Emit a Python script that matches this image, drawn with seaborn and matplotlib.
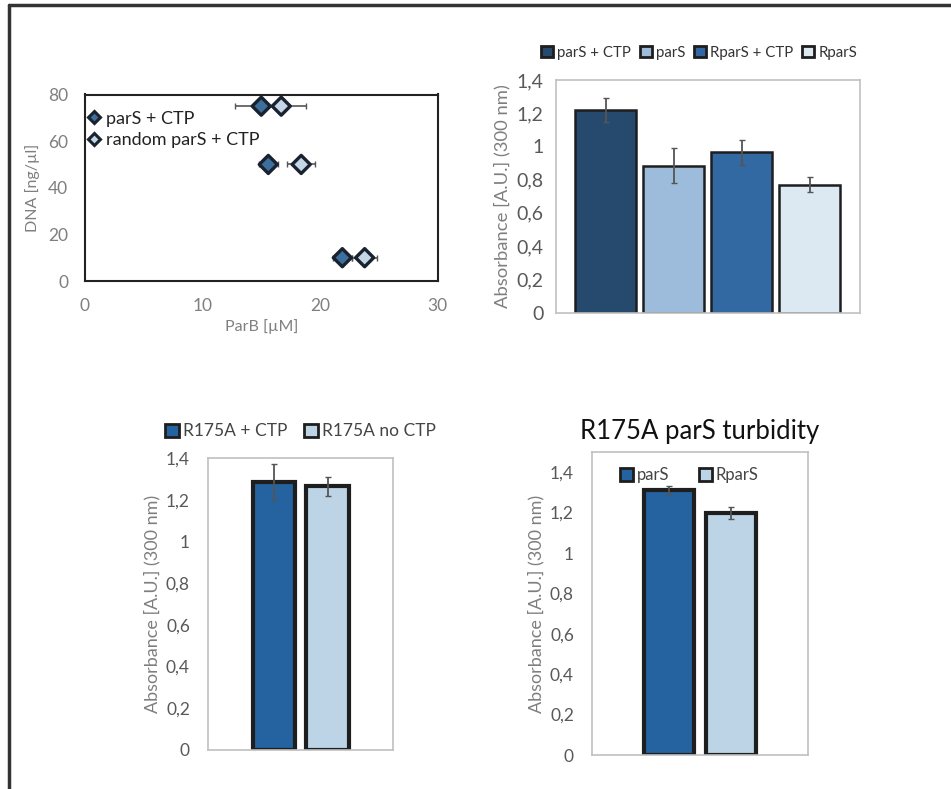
import numpy as np
import pandas as pd
import matplotlib
matplotlib.use("Agg")
import matplotlib.pyplot as plt
from matplotlib.lines import Line2D
from matplotlib.patches import Patch
from matplotlib.ticker import FuncFormatter
import seaborn as sns

# --- data ---
# scatter: ParB concentration needed at each DNA concentration
dna = [75, 50, 10]
parb_pars = [15.0, 15.6, 21.9]
parb_pars_err = [2.2, 0.8, 0.8]
parb_random = [16.7, 18.4, 23.8]
parb_random_err = [2.1, 1.2, 1.05]
scatter_labels = ["parS + CTP", "random parS + CTP"]

# turbidity, wild type
tr_labels = ["parS + CTP", "parS", "RparS + CTP", "RparS"]
tr_values = [1.22, 0.885, 0.965, 0.77]
tr_err = [0.072, 0.105, 0.076, 0.044]

# R175A +/- CTP
bl_labels = ["R175A + CTP", "R175A no CTP"]
bl_values = [1.285, 1.265]
bl_err = [0.085, 0.046]

# R175A parS turbidity
br_labels = ["parS", "RparS"]
br_values = [1.31, 1.20]
br_err = [0.02, 0.03]

sns.set_style("white")
plt.rcParams["font.family"] = ["Lato", "DejaVu Sans"]

W, H = 951, 789
fig = plt.figure(figsize=(W / 100, H / 100), dpi=100)


def px_axes(l, t, r, b):
    return fig.add_axes([l / W, 1 - b / H, (r - l) / W, (b - t) / H])


comma = FuncFormatter(lambda v, p: ("%g" % round(v, 2)).replace(".", ","))
gray = "#7f7f7f"
dgray = "#595959"
edge = "#1e1e1e"

# page frame
fig.add_artist(Line2D([9 / W, 9 / W], [0, 1 - 5 / H], color="#333333", lw=2.5))
fig.add_artist(Line2D([9 / W, 1], [1 - 5 / H, 1 - 5 / H], color="#333333", lw=2.5))

# --- scatter ---
ax = px_axes(85, 94.5, 437.5, 281)
df = pd.DataFrame({
    "ParB": parb_pars + parb_random,
    "DNA": dna + dna,
    "set": [scatter_labels[0]] * 3 + [scatter_labels[1]] * 3,
})
ax.errorbar(parb_pars, dna, xerr=parb_pars_err, fmt="none", ecolor="#555555",
            elinewidth=1.2, capsize=2, zorder=1)
ax.errorbar(parb_random, dna, xerr=parb_random_err, fmt="none", ecolor="#555555",
            elinewidth=1.2, capsize=2, zorder=1)
sns.scatterplot(data=df, x="ParB", y="DNA", hue="set", style="set",
                markers=["D", "D"], palette=["#3d6f9c", "#c5d6e6"],
                s=85, edgecolor="#1a2230", linewidth=2.4, ax=ax, zorder=3,
                legend=False)
ax.set_xlim(0, 30)
ax.set_ylim(0, 80)
ax.set_xticks([0, 10, 20, 30])
ax.set_yticks([0, 20, 40, 60, 80])
ax.tick_params(direction="in", length=4, width=1.2, colors="#222222",
               labelcolor=gray, labelsize=12.5, pad=12)
for s in ax.spines.values():
    s.set_color("#222222")
    s.set_linewidth(1.5)
ax.set_xlabel("ParB [µM]", color=gray, fontsize=11.5)
ax.set_ylabel("DNA [ng/µl]", color=gray, fontsize=11.5, labelpad=6)
h = [Line2D([], [], marker="D", ls="", ms=6.5, mfc=c, mec="#1a2230", mew=2.2)
     for c in ["#3d6f9c", "#c5d6e6"]]
ax.legend(h, scatter_labels, loc="upper left", bbox_to_anchor=(-0.045, 1.0),
          frameon=False, fontsize=13, handletextpad=0.15, labelspacing=0.3,
          handlelength=1.0, labelcolor="#222222")


def bar_panel(ax, labels, values, errs, colors, width, lw, xlim, ylim,
              ticksize, labelsize, pad):
    sns.barplot(x=labels, y=values, hue=labels, palette=colors, width=width,
                edgecolor=edge, linewidth=lw, ax=ax, legend=False, saturation=1)
    ax.errorbar(np.arange(len(values)), values, yerr=errs, fmt="none",
                ecolor="#555555", elinewidth=1.3, capsize=2.5, zorder=5)
    ax.set_xlim(*xlim)
    ax.set_ylim(*ylim)
    ax.set_yticks(np.arange(0, 1.41, 0.2))
    ax.yaxis.set_major_formatter(comma)
    ax.set_xticks([])
    ax.tick_params(axis="y", length=0, labelcolor=dgray, labelsize=ticksize, pad=pad)
    for s in ax.spines.values():
        s.set_color("#c0c0c0")
        s.set_linewidth(1.2)
    ax.set_ylabel("Absorbance [A.U.] (300 nm)", color=gray, fontsize=labelsize)


def square_handles(colors):
    return [Patch(facecolor=c, edgecolor=edge, linewidth=2) for c in colors]


# --- top right ---
tr_colors = ["#264a6e", "#9dbcdb", "#3369a3", "#dce8f2"]
ax = px_axes(556, 80, 860, 312.5)
bar_panel(ax, tr_labels, tr_values, tr_err, tr_colors, 0.9, 1.8,
          (-0.73, 3.74), (0, 1.4), 14, 13.3, 9)
ax.legend(square_handles(tr_colors), tr_labels, loc="lower center",
          bbox_to_anchor=(0.47, 1.03), ncol=4, frameon=False, fontsize=10.8,
          handlelength=0.8, handleheight=0.8, handletextpad=0.3,
          columnspacing=0.55, labelcolor="#333333")

# --- bottom left ---
bl_colors = ["#2462a0", "#bcd4e6"]
ax = px_axes(208, 458, 393, 750)
bar_panel(ax, bl_labels, bl_values, bl_err, bl_colors, 0.8, 3,
          (-1.23, 2.22), (0, 1.4), 12.5, 13, 13)
ax.legend(square_handles(bl_colors), bl_labels, loc="lower center",
          bbox_to_anchor=(0.5, 1.01), ncol=2, frameon=False, fontsize=12.5,
          handlelength=0.8, handleheight=0.8, handletextpad=0.2,
          columnspacing=1.0, labelcolor="#444444")

# --- bottom right ---
br_colors = ["#2462a0", "#bcd4e6"]
ax = px_axes(592, 452, 808, 755)
bar_panel(ax, br_labels, br_values, br_err, br_colors, 0.82, 3,
          (-1.24, 2.24), (0, 1.5), 12.5, 13, 13)
ax.legend(square_handles(br_colors), br_labels, loc="upper center",
          bbox_to_anchor=(0.45, 1.0), ncol=2, frameon=False, fontsize=12,
          handlelength=0.8, handleheight=0.8, handletextpad=0.2,
          columnspacing=1.8, labelcolor="#444444")
ax.set_title("R175A parS turbidity", fontsize=18.5, color="#111111", pad=9)

fig.savefig("out.png", dpi=100, facecolor="white")
